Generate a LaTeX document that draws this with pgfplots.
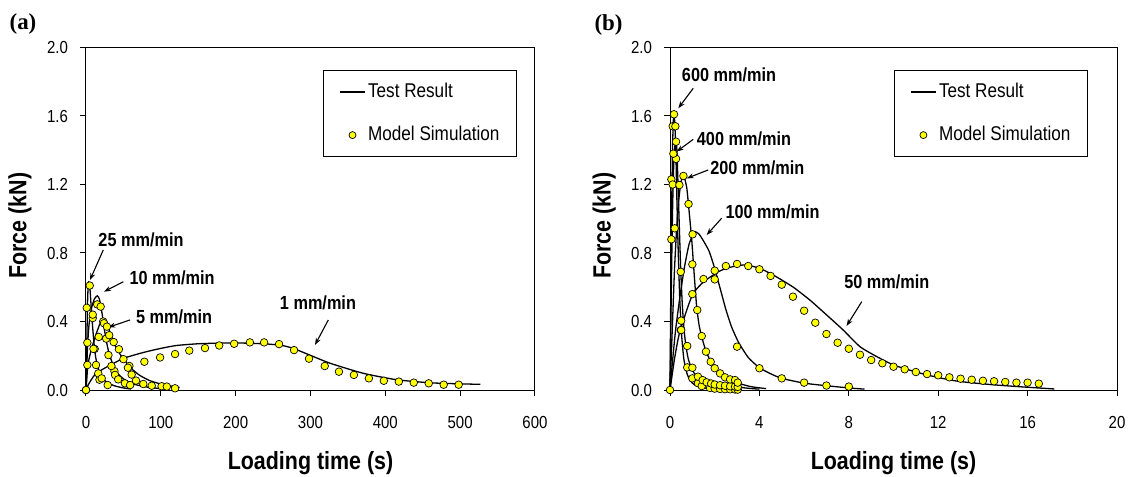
\documentclass[border=0pt]{standalone}
\usepackage{fontspec}
\setmainfont{Liberation Sans}[FakeStretch=0.86]
\newfontfamily\titlefont{Liberation Serif}
\usepackage{pgfplots}
\pgfplotsset{compat=1.18}
\usetikzlibrary{arrows.meta}
\definecolor{dotyellow}{RGB}{255,255,0}

\pgfplotsset{
  panel/.style={
    scale only axis, height=342.5bp,
    xmin=0, ymin=0, ymax=2,
    ytick={0,0.4,0.8,1.2,1.6,2.0},
    tick align=outside, xtick pos=left, ytick pos=left,
    major tick length=6bp,
    axis line style={line width=1bp},
    tick style={black, line width=1bp},
    clip=false,
    /pgf/number format/assume math mode=true,
    ticklabel style={font=\fontsize{17.5}{20}\selectfont},
    x tick label style={yshift=-17bp},
    y tick label style={/pgf/number format/fixed, /pgf/number format/fixed zerofill, /pgf/number format/precision=1, xshift=-8.5bp},
    xlabel={Loading time (s)},
    ylabel={Force (kN)},
    label style={font=\bfseries\fontsize{25}{30}\selectfont},
    xlabel style={at={(axis description cs:0.5,-0.2307)}, anchor=base},
    ylabel style={at={(axis description cs:-0.147,0.48)}, anchor=center},
    legend style={anchor=north east, draw=black, line width=1bp, fill=white,
      font=\fontsize{20}{24}\selectfont, inner xsep=15bp, inner ysep=10bp, row sep=20bp,
      nodes={inner sep=2bp, text height=15bp, text depth=4bp}, cells={anchor=west}},
  },
  testline/.style={black, line width=1.3bp, smooth, tension=0.35, forget plot},
  simdot/.style={only marks, mark=*, mark size=3.8bp, mark options={fill=dotyellow, draw=black, line width=0.7bp}, forget plot},
  lineleg/.style={black, line width=2.2bp, legend image code/.code={\draw[##1] (0bp,0bp) -- (25bp,0bp);}},
  dotleg/.style={draw=none, legend image code/.code={\path[draw=none] (0bp,0bp) -- (25bp,0bp);
     \filldraw[fill=dotyellow, draw=black, line width=0.7bp] (12.5bp,0bp) circle[radius=3.5bp];}},
}
\tikzset{ann/.style={font=\bfseries\fontsize{19}{22}\selectfont},
  arr/.style={black, line width=1.1bp, -{Stealth[length=7bp,width=5bp]}}}

\begin{document}
\begin{tikzpicture}
\useasboundingbox (-86bp,-87bp) rectangle (1046bp,390bp);
% ---------------- panel (a)
\begin{axis}[panel, width=449bp, xmax=600, xtick={0,100,...,600},
  legend style={at={(axis description cs:0.960,0.934)}}]
\addlegendimage{lineleg}
\addlegendentry{Test Result}
\addlegendimage{dotleg}
\addlegendentry{Model Simulation}
% 1 mm/min
\addplot[testline] coordinates {(0,0)(3,0.03)(7,0.06)(12,0.09)(20,0.115)(30,0.14)(40,0.163)(50,0.185)(65,0.205)(81,0.224)(100,0.243)(121,0.26)(150,0.27)(180,0.274)(210,0.274)(241,0.269)(262,0.26)(277,0.243)(299,0.204)(327,0.155)(371,0.097)(415,0.06)(460,0.042)(500,0.036)(527,0.033)};
% 25 mm/min
\addplot[testline] coordinates {(0,0)(1,0.25)(2,0.5)(3,0.62)(4,0.63)(5.5,0.58)(7,0.48)(9,0.36)(11,0.26)(13,0.19)(16,0.13)(20,0.085)(25,0.055)(32,0.035)(40,0.022)(50,0.012)(60,0.006)};
% 10 mm/min
\addplot[testline] coordinates {(0,0)(1,0.12)(2,0.25)(4,0.38)(7,0.47)(11,0.53)(15,0.55)(18,0.53)(21,0.46)(24,0.37)(27,0.29)(31,0.21)(36,0.15)(42,0.1)(50,0.065)(60,0.04)(72,0.025)(85,0.015)(100,0.008)};
% 5 mm/min
\addplot[testline] coordinates {(0,0)(1,0.06)(2,0.12)(4,0.18)(8,0.25)(13,0.32)(18,0.38)(22,0.41)(25,0.41)(28,0.39)(31,0.35)(36,0.29)(41,0.24)(47,0.2)(54,0.16)(62,0.12)(72,0.085)(85,0.055)(100,0.035)(115,0.022)(125,0.015)};
% simulations
\addplot[simdot] coordinates {(0,0)(18,0.06)(38,0.11)(58,0.14)(78,0.165)(99,0.19)(119,0.21)(138,0.23)(159,0.245)(178,0.26)(198,0.27)(219,0.278)(238,0.278)(258,0.268)(278,0.233)(298,0.183)(319,0.14)(338,0.107)(358,0.088)(378,0.068)(398,0.054)(418,0.049)(438,0.043)(458,0.039)(478,0.031)(498,0.031)};
\addplot[simdot] coordinates {(0,0)(1,0.48)(5,0.61)(9,0.42)(11.6,0.24)(13.4,0.146)(16.4,0.097)(21,0.068)(29,0.029)};
\addplot[simdot] coordinates {(1.8,0.276)(9,0.44)(15,0.50)(19.6,0.487)(23,0.40)(27,0.30)(30,0.204)(34,0.14)(38.8,0.088)(43,0.062)(52,0.039)(59,0.029)};
\addplot[simdot] coordinates {(1.8,0.146)(10,0.24)(17,0.31)(24,0.39)(28,0.37)(31,0.32)(37,0.28)(44,0.238)(50,0.18)(56,0.13)(61,0.09)(66.8,0.055)(76.6,0.035)(87.8,0.025)(101,0.022)(108,0.02)(119,0.01)};
% annotations
\node[ann] at (axis cs:73.5,0.876) {25 mm/min};
\draw[arr] (axis cs:23.1,0.818) -- (axis cs:5.3,0.642);
\node[ann] at (axis cs:115,0.654) {10 mm/min};
\draw[arr] (axis cs:49.8,0.632) -- (axis cs:24,0.574);
\node[ann] at (axis cs:117.6,0.428) {5 mm/min};
\draw[arr] (axis cs:58.8,0.409) -- (axis cs:29.8,0.366);
\node[ann] at (axis cs:310,0.508) {1 mm/min};
\draw[arr] (axis cs:323.8,0.409) -- (axis cs:306,0.263);
\end{axis}
\node[font=\titlefont\bfseries\fontsize{23}{26}\selectfont] at (-63bp,366bp) {(a)};
% ---------------- panel (b)
\begin{axis}[panel, at={(584bp,0bp)}, anchor=south west, width=447bp, xmax=20, xtick={0,4,...,20},
  legend style={at={(axis description cs:0.935,0.934)}}]
\addlegendimage{lineleg}
\addlegendentry{Test Result}
\addlegendimage{dotleg}
\addlegendentry{Model Simulation}
% 600
\addplot[testline] coordinates {(0,0)(0.03,0.5)(0.07,1.0)(0.11,1.4)(0.16,1.6)(0.21,1.57)(0.26,1.4)(0.31,1.1)(0.37,0.8)(0.44,0.52)(0.52,0.32)(0.62,0.18)(0.75,0.1)(0.9,0.055)(1.1,0.03)(1.4,0.015)(1.8,0.008)(2.4,0.004)(3.2,0.001)};
% 400
\addplot[testline] coordinates {(0,0)(0.05,0.5)(0.1,0.95)(0.15,1.25)(0.2,1.4)(0.26,1.46)(0.31,1.4)(0.37,1.15)(0.43,0.9)(0.48,0.7)(0.55,0.5)(0.63,0.35)(0.72,0.25)(0.82,0.18)(0.95,0.13)(1.1,0.095)(1.3,0.07)(1.6,0.05)(2.0,0.035)(2.5,0.025)(3.0,0.018)(3.5,0.01)(4.0,0.005)};
% 200
\addplot[testline] coordinates {(0,0)(0.1,0.35)(0.2,0.7)(0.3,0.95)(0.4,1.12)(0.5,1.22)(0.62,1.25)(0.75,1.18)(0.85,1.05)(0.97,0.88)(1.08,0.68)(1.19,0.49)(1.3,0.38)(1.42,0.31)(1.6,0.23)(1.79,0.175)(2.0,0.13)(2.24,0.097)(2.6,0.065)(3.06,0.04)(3.6,0.02)(4.3,0.008)};
% 100
\addplot[testline] coordinates {(0,0)(0.1,0.15)(0.25,0.35)(0.45,0.55)(0.65,0.72)(0.85,0.85)(1.0,0.9)(1.12,0.925)(1.3,0.91)(1.5,0.87)(1.75,0.81)(2.0,0.71)(2.25,0.59)(2.5,0.47)(2.75,0.37)(3.06,0.28)(3.5,0.19)(4.0,0.13)(4.5,0.095)(5.0,0.068)(6.0,0.04)(7.0,0.025)(8.0,0.012)(8.7,0.005)};
% 50
\addplot[testline] coordinates {(0,0)(0.2,0.18)(0.4,0.32)(0.75,0.467)(1.04,0.565)(1.49,0.63)(2.09,0.685)(2.5,0.71)(2.98,0.725)(3.4,0.73)(4.03,0.71)(4.77,0.66)(5.52,0.6)(6.26,0.525)(7.01,0.438)(7.75,0.35)(8.5,0.253)(9.25,0.195)(10.0,0.146)(10.75,0.115)(11.5,0.088)(12.25,0.066)(13,0.049)(14.5,0.03)(16,0.016)(17.2,0.006)};
% simulations
\addplot[simdot] coordinates {(0,0)(0.06,1.23)(0.12,1.54)(0.18,1.61)(0.24,1.54)(0.27,1.35)(0.48,0.35)(0.77,0.132)(1.0,0.068)(1.25,0.04)(1.42,0.023)(1.79,0.012)(2.0,0.008)(2.24,0.006)(2.46,0.005)(2.69,0.004)(2.91,0.003)(3.03,0.002)};
\addplot[simdot] coordinates {(0.06,0.88)(0.12,1.2)(0.15,1.38)(0.27,1.45)(0.48,0.69)(0.77,0.257)(1.0,0.13)(1.25,0.078)(1.46,0.058)(1.64,0.045)(1.84,0.038)(2.0,0.032)(2.24,0.028)(2.46,0.025)(2.69,0.022)(2.91,0.02)(3.03,0.018)};
\addplot[simdot] coordinates {(0.21,0.944)(0.42,1.197)(0.6,1.25)(0.83,1.086)(1.01,0.909)(1.22,0.467)(1.42,0.315)(1.61,0.224)(1.82,0.165)(2.0,0.127)(2.24,0.097)(2.46,0.074)(2.69,0.062)(2.91,0.058)(3.03,0.043)};
\addplot[simdot] coordinates {(0.5,0.35)(1.0,0.734)(2.0,0.646)(3.0,0.253)(4.0,0.127)(5.0,0.068)(6.0,0.043)(7.0,0.026)(8.0,0.02)};
\addplot[simdot] coordinates {(0.5,0.405)(1.0,0.56)(1.5,0.648)(2.0,0.697)(2.5,0.724)(3.0,0.736)(3.5,0.724)(4.0,0.705)(4.5,0.666)(5.0,0.615)(5.5,0.545)(6.0,0.463)(6.5,0.393)(7.0,0.327)(7.5,0.276)(8.0,0.241)(8.5,0.206)(9.0,0.175)(9.5,0.156)(10.0,0.136)(10.5,0.121)(11.0,0.105)(11.5,0.093)(12.0,0.086)(12.5,0.074)(13.0,0.066)(13.5,0.06)(14.0,0.054)(14.5,0.051)(15.0,0.047)(15.5,0.043)(16.0,0.043)(16.5,0.037)};
% annotations
\node[ann] at (axis cs:2.64,1.839) {600 mm/min};
\draw[arr] (axis cs:1.04,1.762) -- (axis cs:0.37,1.645);
\node[ann] at (axis cs:3.31,1.464) {400 mm/min};
\draw[arr] (axis cs:1.04,1.464) -- (axis cs:0.3,1.392);
\node[ann] at (axis cs:3.91,1.295) {200 mm/min};
\draw[arr] (axis cs:1.71,1.285) -- (axis cs:0.75,1.236);
\node[ann] at (axis cs:4.59,1.038) {100 mm/min};
\draw[arr] (axis cs:2.31,1.003) -- (axis cs:1.64,0.905);
\node[ann] at (axis cs:9.7,0.632) {50 mm/min};
\draw[arr] (axis cs:8.58,0.516) -- (axis cs:7.9,0.374);
\end{axis}
\node[font=\titlefont\bfseries\fontsize{23}{26}\selectfont] at (522.5bp,365.3bp) {(b)};
\end{tikzpicture}
\end{document}
